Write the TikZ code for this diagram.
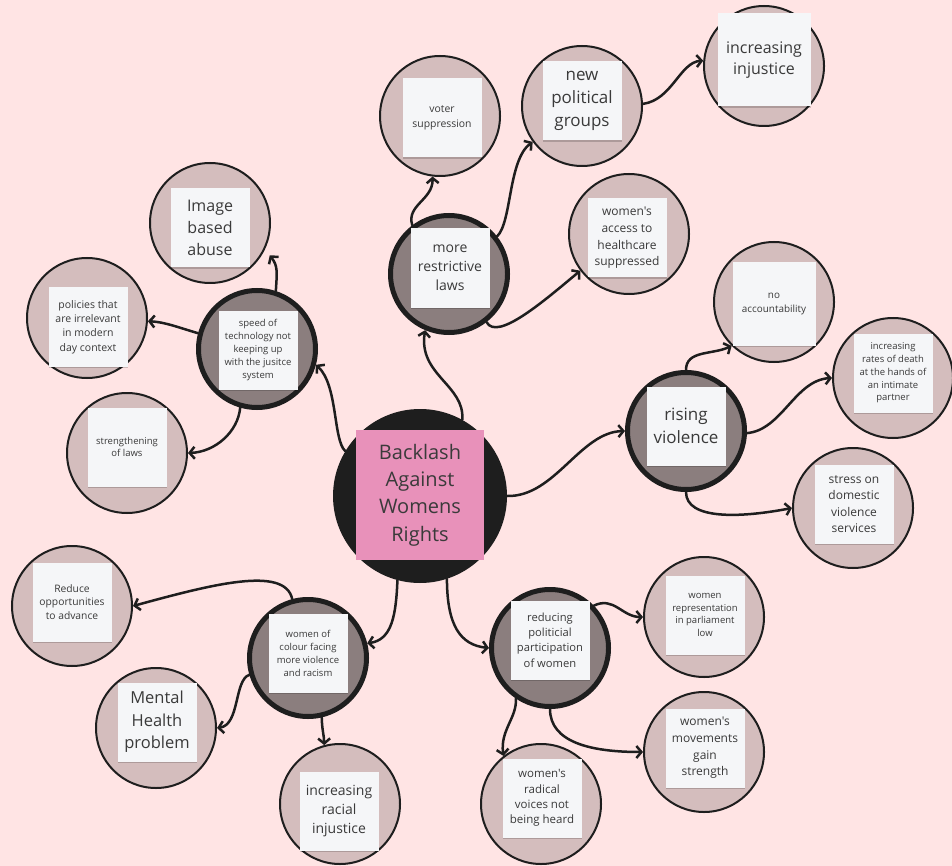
\documentclass[tikz,border=0pt]{standalone}
\usepackage{fontspec}
\setmainfont{Open Sans}[Ligatures=TeXOff]
\usetikzlibrary{arrows.meta,shadows}
\definecolor{bgc}{HTML}{FFE4E4}
\definecolor{leaffill}{HTML}{D4BDBD}
\definecolor{hubfill}{HTML}{8B7E7E}
\definecolor{ink}{HTML}{1E1E1E}
\definecolor{cardfill}{HTML}{F5F6F8}
\definecolor{txt}{HTML}{3A3A3A}
\definecolor{pinkc}{HTML}{E891BA}
\newcommand\fsz[2]{\fontsize{#1}{#2}\selectfont}
\begin{document}
\begin{tikzpicture}[x=1pt,y=-1pt,
  hub/.style={circle, draw=ink, line width=5pt, fill=hubfill, minimum size=117pt, inner sep=0pt},
  leaf/.style={circle, draw=ink, line width=2pt, fill=leaffill, minimum size=120pt, inner sep=0pt},
  core/.style={circle, fill=ink, minimum size=174pt, inner sep=0pt},
  card/.style={fill=cardfill, minimum width=79pt, minimum height=79pt, inner sep=0pt, align=center, text=txt,
    drop shadow={shadow xshift=0.8pt, shadow yshift=-1.3pt, opacity=0.18, fill=black}},
  link/.style={line width=2.5pt, draw=ink, -{Straight Barb[length=5pt,width=12pt]}, line cap=round, line join=round}]
\fill[bgc] (0,0) rectangle (952,866);
\useasboundingbox (0,0) rectangle (952,866);

% core
\node[core] (C) at (420,496) {};
\node[fill=pinkc, minimum width=128pt, minimum height=130pt, inner sep=0pt, align=center, text=txt,
  font=\fsz{20}{27.4}] (Ct) at (420,495) {Backlash\\Against\\Womens\\Rights};

% hubs
\node[hub] (tech) at (257,349) {};
\node[card, font=\fsz{9.5}{12.9}] (techt) at (258,350) {speed of\\technology not\\keeping up\\with the jusitce\\system};
\node[hub] (laws) at (449,274) {};
\node[card, font=\fsz{14}{18.8}] (lawst) at (450,268) {more\\restrictive\\laws};
\node[hub] (rising) at (686,431) {};
\node[card, font=\fsz{17}{23}] (risingt) at (686,426) {rising\\violence};
\node[hub] (colour) at (308,658) {};
\node[card, font=\fsz{9.5}{13}] (colourt) at (308,653) {women of\\colour facing\\more violence\\and racism};
\node[hub] (reducing) at (550,648) {};
\node[card, font=\fsz{11.2}{15.4}] (reducingt) at (550,640) {reducing\\politicial\\participation\\of women};

% leaves
\node[leaf] (image) at (210,223) {};
\node[card, font=\fsz{16}{21.7}] (imaget) at (210,228) {Image\\based\\abuse};
\node[leaf] (policies) at (87,318) {};
\node[card, font=\fsz{10.5}{14.2}] (policiest) at (88,327) {policies that\\are irrelevant\\in modern\\day context};
\node[leaf] (strength) at (127,453) {};
\node[card, font=\fsz{9.5}{12.7}] (strengtht) at (127,447) {strengthening\\of laws};
\node[leaf] (voter) at (440,116) {};
\node[card, font=\fsz{10.4}{14.7}] (votert) at (442,118) {voter\\suppression};
\node[leaf] (new) at (582,106) {};
\node[card, font=\fsz{17}{23}] (newt) at (582,101) {new\\political\\groups};
\node[leaf] (injustice) at (764,66) {};
\node[card, minimum width=93pt, minimum height=93pt, font=\fsz{16}{21.7}] (injusticet) at (764,60) {increasing\\injustice};
\node[leaf] (access) at (629,234) {};
\node[card, font=\fsz{12}{16.7}] (accesst) at (627,238) {women's\\access to\\healthcare\\suppressed};
\node[leaf] (noacc) at (774,302) {};
\node[card, minimum width=83pt, minimum height=84pt, font=\fsz{9.9}{14.3}] (noacct) at (774,304) {no\\accountability};
\node[leaf] (rates) at (893,378) {};
\node[card, font=\fsz{9.5}{12.8}] (ratest) at (893,373) {increasing\\rates of death\\at the hands of\\an intimate\\partner};
\node[leaf] (stress) at (853,508) {};
\node[card, font=\fsz{12}{16.4}] (stresst) at (854,504) {stress on\\domestic\\violence\\services};
\node[leaf] (reduce) at (72,606) {};
\node[card, font=\fsz{10.3}{13.7}] (reducet) at (72,602) {Reduce\\opportunities\\to advance};
\node[leaf] (mental) at (156,728) {};
\node[card, font=\fsz{16.5}{22.5}] (mentalt) at (157,722) {Mental\\Health\\problem};
\node[leaf] (racial) at (340,804) {};
\node[card, font=\fsz{14}{18.8}] (racialt) at (339,811) {increasing\\racial\\injustice};
\node[leaf] (radical) at (541,804) {};
\node[card, font=\fsz{11.5}{15.3}] (radicalt) at (542,798) {women's\\radical\\voices not\\being heard};
\node[leaf] (rep) at (704,617) {};
\node[card, font=\fsz{9.5}{12.6}] (rept) at (705,615) {women\\representation\\in parliament\\low};
\node[leaf] (movements) at (704,752) {};
\node[card, font=\fsz{12}{16.7}] (movementst) at (705,748) {women's\\movements\\gain\\strength};

% connectors from core
\draw[link] (C.149) .. controls (333,440) and (338,385) .. (tech.-15);
\draw[link] (C.61) .. controls (465,385) and (418,375) .. (laws.-113);
\draw[link] (C.0) .. controls (555,497) and (580,432) .. (rising.180);
\draw[link] (C.-105) .. controls (396,615) and (392,640) .. (colour.14);
\draw[link] (C.-72) .. controls (447,625) and (460,645) .. (reducing.180);
% from tech
\draw[link] (tech.72) .. controls (277,272) and (278,266) .. ([xshift=8pt]image.-32);
\draw[link] (tech.165) .. controls (180,328) and (165,322) .. (policies.-3);
\draw[link] (tech.-106) .. controls (238,432) and (215,452) .. (strength.0);
% from laws
\draw[link] (laws.127) .. controls (406,205) and (433,200) .. (voter.-97);
\draw[link] (laws.38) .. controls (512,222) and (508,160) .. (new.-144);
\draw[link] (laws.-52) .. controls (497,342) and (545,300) .. (access.-143);
% from new
\draw[link] (new.2) .. controls (672,100) and (680,62) .. (injustice.175);
% from rising
\draw[link] (rising.90) .. controls (686,350) and (712,355) .. (noacc.-134);
\draw[link] (rising.-2) .. controls (782,430) and (795,380) .. (rates.180);
\draw[link] (rising.-90) .. controls (686,520) and (740,518) .. (stress.180);
% from colour
\draw[link] (colour.105) .. controls (285,565) and (210,585) .. (reduce.0);
\draw[link] (colour.-164) .. controls (234,680) and (240,725) .. (mental.0);
\draw[link] (colour.-77) .. controls (322,730) and (324,735) .. (racial.105);
% from reducing
\draw[link] (reducing.44) .. controls (614,596) and (622,617) .. (rep.180);
\draw[link] (reducing.-124) .. controls (517,718) and (500,730) .. (radical.128);
\draw[link] (reducing.-90) .. controls (550,742) and (590,752) .. (movements.180);
\end{tikzpicture}
\end{document}
